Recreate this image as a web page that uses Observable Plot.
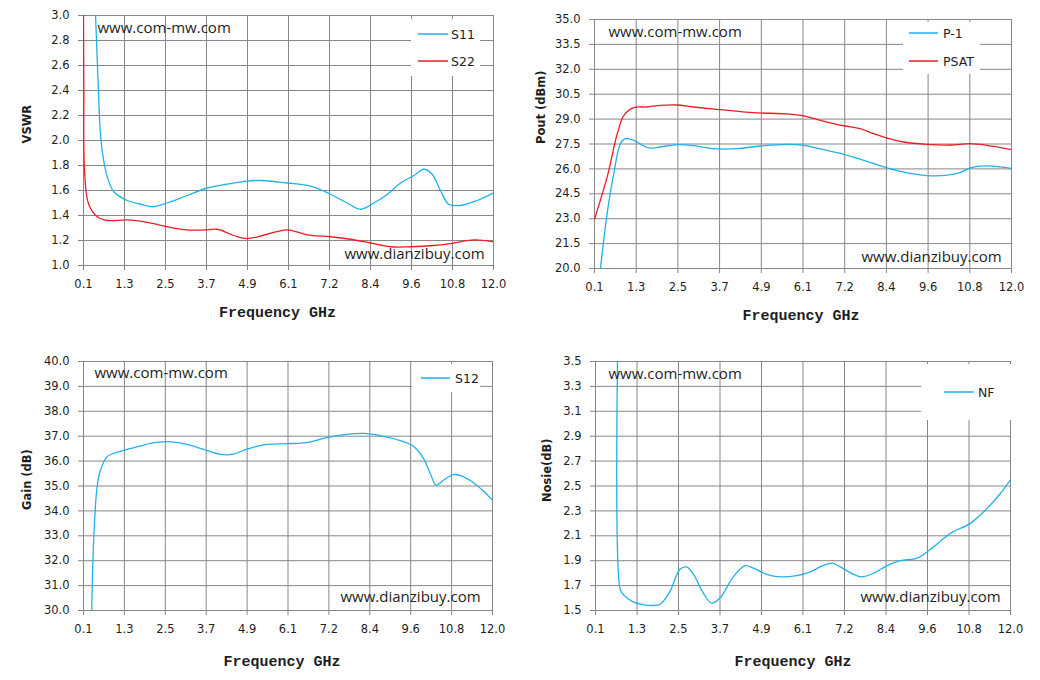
<!DOCTYPE html>
<html><head><meta charset="utf-8">
<script src="https://cdn.jsdelivr.net/npm/d3@7"></script>
<script src="https://cdn.jsdelivr.net/npm/@observablehq/plot@0.6"></script>
<style>
body{margin:0;background:#fff;}
#wrap{position:relative;width:1040px;height:680px;overflow:hidden;background:#fff;}
.panel{position:absolute;}
.legend{position:absolute;background:#fff;}
</style>
</head><body>
<div id="wrap"></div>
<script>
// ---- data ----
const xTickLabels = ["0.1","1.3","2.5","3.7","4.9","6.1","7.2","8.4","9.6","10.8","12.0"];
const xTickPos = xTickLabels.map((_, i) => 0.1 + i * (11.9 / 10));

const vswrTicks = [1.0,1.2,1.4,1.6,1.8,2.0,2.2,2.4,2.6,2.8,3.0];
const poutTicks = [20.0,21.5,23.0,24.5,26.0,27.5,29.0,30.5,32.0,33.5,35.0];
const gainTicks = [30,31,32,33,34,35,36,37,38,39,40];
const nfTicks = [1.5,1.7,1.9,2.1,2.3,2.5,2.7,2.9,3.1,3.3,3.5];

const s11 = [[0.45,3.0],[0.52,2.5],[0.59,2.06],[0.68,1.85],[0.79,1.71],[0.98,1.59],[1.37,1.52],[1.75,1.49],[2.13,1.47],[2.53,1.50],[3.11,1.56],[3.69,1.62],[4.27,1.65],[4.85,1.675],[5.24,1.68],[6.01,1.66],[6.69,1.635],[7.27,1.57],[7.75,1.50],[8.14,1.45],[8.53,1.50],[8.92,1.57],[9.30,1.66],[9.69,1.72],[9.98,1.77],[10.22,1.73],[10.46,1.60],[10.70,1.49],[11.04,1.48],[11.52,1.52],[12.0,1.58]];
const s22 = [[0.1,3.0],[0.11,2.4],[0.13,1.76],[0.25,1.49],[0.50,1.39],[0.79,1.36],[1.37,1.365],[1.75,1.355],[2.14,1.335],[2.53,1.31],[3.11,1.285],[3.69,1.285],[3.98,1.29],[4.46,1.24],[4.85,1.215],[5.43,1.25],[6.01,1.285],[6.59,1.245],[7.27,1.23],[7.85,1.21],[8.43,1.18],[9.01,1.15],[9.59,1.15],[10.27,1.16],[10.85,1.18],[11.43,1.205],[12.0,1.19]];
const psat = [[0.1,22.97],[0.46,25.5],[0.75,28.12],[0.94,29.23],[1.22,29.69],[1.60,29.73],[1.98,29.83],[2.46,29.85],[2.93,29.73],[3.69,29.57],[4.64,29.39],[5.59,29.31],[6.07,29.19],[6.54,28.93],[7.21,28.60],[7.68,28.42],[8.06,28.12],[8.45,27.86],[8.92,27.62],[9.59,27.48],[10.25,27.44],[10.82,27.52],[11.30,27.42],[12.0,27.16]];
const p1 = [[0.27,20.0],[0.46,23.31],[0.65,25.72],[0.84,27.52],[0.98,27.82],[1.22,27.72],[1.65,27.26],[1.98,27.32],[2.46,27.46],[2.93,27.40],[3.50,27.22],[4.17,27.22],[4.83,27.38],[5.59,27.48],[6.07,27.42],[6.54,27.20],[7.21,26.88],[7.78,26.52],[8.45,26.06],[9.02,25.76],[9.59,25.60],[10.16,25.62],[10.53,25.78],[10.82,26.06],[11.30,26.18],[11.67,26.12],[12.0,26.02]];
const s12 = [[0.34,30.0],[0.39,32.62],[0.49,34.90],[0.58,35.57],[0.78,36.17],[0.97,36.31],[1.36,36.47],[1.75,36.60],[2.04,36.71],[2.52,36.78],[3.11,36.67],[3.59,36.47],[4.08,36.27],[4.46,36.28],[4.85,36.48],[5.43,36.67],[6.02,36.70],[6.60,36.74],[7.18,36.94],[7.76,37.07],[8.25,37.11],[8.73,37.02],[9.41,36.78],[9.70,36.60],[9.99,36.11],[10.19,35.50],[10.36,35.03],[10.57,35.23],[10.87,35.46],[11.16,35.37],[11.45,35.13],[11.74,34.79],[12.0,34.43]];
const nf = [[0.73,3.5],[0.80,1.68],[0.89,1.63],[1.18,1.57],[1.76,1.54],[1.95,1.55],[2.23,1.65],[2.52,1.83],[2.71,1.85],[2.91,1.79],[3.19,1.64],[3.43,1.56],[3.67,1.60],[4.05,1.77],[4.39,1.86],[4.63,1.84],[5.01,1.79],[5.40,1.77],[5.87,1.78],[6.26,1.81],[6.54,1.85],[6.88,1.88],[7.12,1.85],[7.50,1.79],[7.74,1.77],[8.08,1.80],[8.46,1.86],[8.84,1.90],[9.32,1.92],[9.70,1.99],[10.28,2.12],[10.85,2.20],[11.33,2.32],[11.71,2.44],[12.0,2.55]];

const xLabel = "Frequency GHz";
const wmTop = "www.com-mw.com";
const wmBottom = "www.dianzibuy.com";

const BLUE = "#1fb2ea", RED = "#ee1d24", GRID = "#878787", INK = "#1e1e1e";

const wrap = document.getElementById("wrap");

function panel(cfg) {
  const tickLabel = d => xTickLabels[Math.round((d - 0.1) / (11.9 / 10))];
  const marks = [
    Plot.gridX(xTickPos, {stroke: GRID, strokeOpacity: 1, strokeWidth: 1}),
    Plot.gridY(cfg.yTicks, {stroke: GRID, strokeOpacity: 1, strokeWidth: 1}),
    Plot.frame({stroke: GRID, strokeWidth: 1}),
    Plot.axisX(xTickPos, {tickSize: 5, tickPadding: 9, tickFormat: tickLabel, stroke: GRID, fill: INK, label: null}),
    Plot.axisY(cfg.yTicks, {tickSize: 5, tickPadding: cfg.yPad, tickFormat: d => d.toFixed(1), stroke: GRID, fill: INK, label: null}),
    ...cfg.series.map(s => Plot.line(s.data, {x: d => d[0], y: d => d[1], stroke: s.color, strokeWidth: 1.3, curve: "catmull-rom", clip: true})),
    Plot.text([wmTop], {text: d => d, frameAnchor: "top-left", dx: cfg.wmT[0], dy: cfg.wmT[1], textAnchor: "start", lineAnchor: "middle", fontFamily: "Open Sans", fontSize: 15, fill: INK}),
    Plot.text([wmBottom], {text: d => d, frameAnchor: "bottom-left", dx: cfg.wmB[0], dy: cfg.wmB[1], textAnchor: "start", lineAnchor: "middle", fontFamily: "Open Sans", fontSize: 15, fill: INK}),
    Plot.text([xLabel], {text: d => d, frameAnchor: "bottom", dx: cfg.xl[0], dy: cfg.xl[1], lineAnchor: "middle", fontFamily: "'Liberation Mono', 'DejaVu Sans Mono', monospace", fontWeight: "bold", fontSize: 15, fill: INK}),
    Plot.text([cfg.yLabel], {text: d => d, frameAnchor: "left", dx: cfg.yl[0], dy: cfg.yl[1], rotate: -90, lineAnchor: "middle", fontFamily: "DejaVu Sans", fontWeight: "bold", fontSize: 11.5, fill: INK})
  ];
  const svg = Plot.plot({
    width: 520, height: cfg.height,
    marginLeft: cfg.m[0], marginRight: cfg.m[1], marginTop: cfg.m[2], marginBottom: cfg.m[3],
    x: {domain: [0.1, 12]},
    y: {domain: [cfg.yTicks[0], cfg.yTicks[cfg.yTicks.length - 1]]},
    style: {fontFamily: "DejaVu Sans", fontSize: "11.5px", color: INK, background: "transparent", overflow: "visible"},
    marks
  });
  svg.classList.add("panel");
  svg.style.left = cfg.left + "px";
  svg.style.top = cfg.top + "px";
  wrap.appendChild(svg);

  // legend (white box covering gridlines)
  const lg = cfg.legend;
  const div = document.createElement("div");
  div.className = "legend";
  Object.assign(div.style, {left: lg.box[0] + "px", top: lg.box[1] + "px", width: lg.box[2] + "px", height: lg.box[3] + "px"});
  const ls = d3.create("svg").attr("width", lg.box[2]).attr("height", lg.box[3]).style("display", "block");
  cfg.series.forEach((s, i) => {
    const y = lg.rows[i] - lg.box[1];
    const x0 = lg.lineX[0] - lg.box[0], x1 = lg.lineX[1] - lg.box[0];
    ls.append("line").attr("x1", x0).attr("x2", x1).attr("y1", y).attr("y2", y).attr("stroke", s.color).attr("stroke-width", 1.5);
    ls.append("text").attr("x", lg.textX - lg.box[0]).attr("y", y).attr("dy", "0.36em")
      .attr("font-family", "DejaVu Sans").attr("font-size", 12.5).attr("fill", INK).text(s.name);
  });
  div.appendChild(ls.node());
  wrap.appendChild(div);
}

panel({
  left: 0, top: 0, height: 345, m: [83, 27, 15, 80], yPad: 9,
  yTicks: vswrTicks, yLabel: "VSWR",
  series: [{name: "S11", data: s11, color: BLUE}, {name: "S22", data: s22, color: RED}],
  wmT: [14, 13], wmB: [261, -11], xl: [-11, 47], yl: [-56, 3],
  legend: {box: [411, 19, 69, 57], rows: [34, 61], lineX: [418, 448], textX: 451}
});
panel({
  left: 520, top: 0, height: 345, m: [74, 29, 19, 77], yPad: 9,
  yTicks: poutTicks, yLabel: "Pout (dBm)",
  series: [{name: "P-1", data: p1, color: BLUE}, {name: "PSAT", data: psat, color: RED}],
  wmT: [14, 13], wmB: [267, -11], xl: [-2, 47], yl: [-53, 0],
  legend: {box: [903, 22, 77, 52], rows: [33, 61], lineX: [909, 938], textX: 943}
});
panel({
  left: 0, top: 345, height: 335, m: [83, 28, 16, 70], yPad: 9,
  yTicks: gainTicks, yLabel: "Gain (dB)",
  series: [{name: "S12", data: s12, color: BLUE}],
  wmT: [11, 12], wmB: [257, -13], xl: [-6, 51], yl: [-56, 24],
  legend: {box: [412, 364, 68, 28], rows: [378], lineX: [421, 450], textX: 455}
});
panel({
  left: 520, top: 345, height: 335, m: [75, 30, 16, 70], yPad: 9,
  yTicks: nfTicks, yLabel: "Nosie(dB)",
  series: [{name: "NF", data: nf, color: BLUE}],
  wmT: [13, 13], wmB: [265, -13], xl: [-10, 51], yl: [-48, 16],
  legend: {box: [921, 364, 91, 56], rows: [392], lineX: [944, 974], textX: 978}
});
</script>
</body></html>
